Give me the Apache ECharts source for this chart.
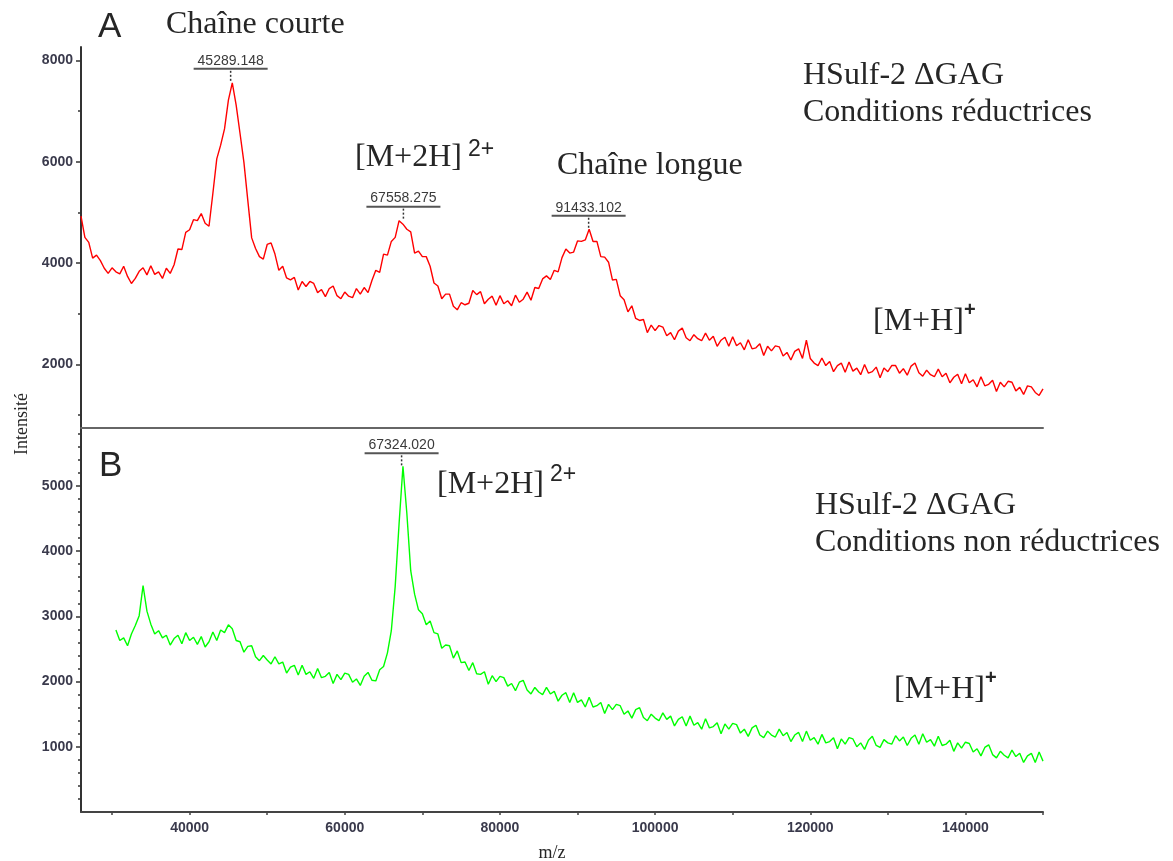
<!DOCTYPE html>
<html>
<head>
<meta charset="utf-8">
<title>HSulf-2 ΔGAG</title>
<script src="https://cdn.jsdelivr.net/npm/echarts@6/dist/echarts.min.js"></script>
<style>
  html, body { margin: 0; background: #fff; }
  #chart { width: 1173px; height: 861px; }
</style>
</head>
<body>
<div id="chart"></div>
<script>
// m/z sampling of the two traces (500 Da steps)
var mzStep = 500;

// A : conditions réductrices, m/z 26000 -> 150000
var redStart = 26000;
var redIntensity = [
  4930, 4510, 4410, 4100, 4160, 4050, 3900, 3800, 3910, 3830,
  3790, 3940, 3740, 3600, 3700, 3840, 3910, 3770, 3950, 3780,
  3830, 3700, 3900, 3800, 3970, 4280, 4270, 4610, 4660, 4860,
  4840, 4980, 4790, 4730, 5380, 6060, 6330, 6650, 7220, 7560,
  7120, 6560, 5990, 5240, 4500, 4290, 4130, 4080, 4370, 4400,
  4180, 3860, 3940, 3710, 3670, 3720, 3470, 3640, 3540, 3640,
  3600, 3420, 3480, 3340, 3500, 3550, 3360, 3300, 3430, 3350,
  3320, 3500, 3390, 3520, 3420, 3660, 3860, 3820, 4180, 4160,
  4430, 4510, 4840, 4770, 4670, 4620, 4200, 4240, 4130, 4130,
  3940, 3610, 3550, 3300, 3390, 3390, 3150, 3080, 3220, 3180,
  3210, 3460, 3380, 3440, 3200, 3290, 3350, 3170, 3360, 3200,
  3260, 3160, 3370, 3230, 3290, 3430, 3270, 3520, 3500, 3690,
  3750, 3680, 3860, 3830, 4110, 4280, 4200, 4220, 4440, 4430,
  4460, 4670, 4430, 4430, 4130, 4120, 4020, 3670, 3680, 3360,
  3280, 3040, 3160, 2910, 2870, 2890, 2630, 2780, 2670, 2770,
  2740, 2570, 2630, 2490, 2660, 2720, 2530, 2470, 2590, 2510,
  2470, 2620, 2480, 2560, 2360, 2480, 2540, 2360, 2550, 2370,
  2430, 2290, 2490, 2310, 2330, 2410, 2180, 2360, 2270, 2370,
  2350, 2170, 2240, 2090, 2260, 2310, 2120, 2480, 2120, 2030,
  1980, 2130, 1980, 2060, 1860, 1980, 2030, 1850, 2050, 1870,
  1930, 1800, 2000, 1830, 1860, 1950, 1740, 1930, 1860, 1980,
  1980, 1830, 1920, 1790, 1970, 2030, 1840, 1770, 1890, 1800,
  1760, 1910, 1760, 1830, 1640, 1750, 1810, 1620, 1820, 1640,
  1700, 1560, 1760, 1580, 1610, 1690, 1470, 1650, 1560, 1670,
  1650, 1480, 1550, 1410, 1580, 1560, 1450, 1390, 1520
];

// B : conditions non réductrices, m/z 30500 -> 150000
var greenStart = 30500;
var greenIntensity = [
  2790, 2630, 2670, 2550, 2730, 2860, 3010, 3470, 3080, 2880,
  2730, 2780, 2670, 2710, 2560, 2660, 2710, 2580, 2750, 2630,
  2680, 2570, 2690, 2530, 2610, 2760, 2630, 2790, 2750, 2870,
  2810, 2630, 2610, 2450, 2540, 2550, 2380, 2320, 2400, 2330,
  2270, 2380, 2270, 2300, 2130, 2220, 2250, 2100, 2250, 2110,
  2150, 2050, 2200, 2060, 2080, 2140, 1970, 2110, 2030, 2130,
  2110, 1990, 2040, 1940, 2080, 2140, 2020, 2010, 2180, 2230,
  2440, 2780, 3460, 4420, 5300, 4580, 3700, 3340, 3100, 3040,
  2870, 2930, 2750, 2730, 2510, 2560, 2550, 2360, 2470, 2290,
  2300, 2170, 2290, 2120, 2110, 2150, 1960, 2090, 2000, 2080,
  2060, 1930, 1970, 1860, 1990, 2020, 1870, 1810, 1910, 1840,
  1800, 1910, 1810, 1850, 1700, 1790, 1830, 1680, 1830, 1680,
  1720, 1610, 1760, 1610, 1630, 1680, 1510, 1650, 1570, 1650,
  1630, 1500, 1550, 1440, 1570, 1600, 1450, 1400, 1500, 1440,
  1400, 1520, 1420, 1470, 1320, 1420, 1460, 1320, 1470, 1330,
  1370, 1270, 1430, 1290, 1310, 1370, 1200, 1350, 1270, 1360,
  1340, 1210, 1270, 1160, 1290, 1330, 1180, 1140, 1240, 1180,
  1150, 1270, 1170, 1220, 1080, 1180, 1220, 1080, 1240, 1100,
  1140, 1040, 1190, 1060, 1080, 1140, 970, 1120, 1040, 1140,
  1120, 1000, 1060, 960, 1100, 1160, 1020, 990, 1110, 1060,
  1040, 1170, 1090, 1150, 1020, 1130, 1180, 1040, 1200, 1070,
  1110, 1010, 1160, 1020, 1040, 1100, 930, 1060, 980, 1070,
  1050, 920, 970, 860, 990, 1030, 880, 830, 930, 870,
  830, 950, 850, 900, 760, 860, 900, 760, 920, 780
];

// tick positions / labels
var xTicks = [30000, 40000, 50000, 60000, 70000, 80000, 90000, 100000, 110000, 120000, 130000, 140000, 150000];
var xLabels = [40000, 60000, 80000, 100000, 120000, 140000];
var yLabelsA = [2000, 4000, 6000, 8000];
var yMinorA = [1000, 3000, 5000, 7000];
var yLabelsB = [1000, 2000, 3000, 4000, 5000];
var yMinorB = [200, 400, 600, 800, 1200, 1400, 1600, 1800, 2200, 2400, 2600, 2800,
               3200, 3400, 3600, 3800, 4200, 4400, 4600, 4800, 5200, 5400, 5600, 5800];

// annotated peaks (m/z, top of the peak)
var peakMzA = [45289.148, 67558.275, 91433.102];
var peakTopA = [7580, 4860, 4680];
var peakMzB = [67324.020];
var peakTopB = [5300];

function toPairs(start, values) {
  var out = [];
  for (var i = 0; i < values.length; i++) out.push([start + i * mzStep, values[i]]);
  return out;
}

var chart = echarts.init(document.getElementById('chart'));

var serif = '"Liberation Serif", "DejaVu Serif", serif';
var sans = '"Liberation Sans", Arial, sans-serif';
var tickFont = {
  fontFamily: 'Liberation Sans', fontSize: 14, fontWeight: 'bold', color: '#3a3a4c',
  formatter: function (v) { return String(v); }
};

function yAxisMain(grid, min, max, labels) {
  return {
    gridIndex: grid, type: 'value', position: 'left', min: min, max: max,
    axisLine: { show: true, lineStyle: { color: '#333', width: 2 } },
    axisTick: { show: true, customValues: labels, length: 5, lineStyle: { color: '#333', width: 1.5 } },
    axisLabel: Object.assign({ customValues: labels, margin: 8 }, tickFont),
    splitLine: { show: false }
  };
}
function yAxisMinor(grid, min, max, ticks) {
  return {
    gridIndex: grid, type: 'value', position: 'left', offset: 0, min: min, max: max,
    axisLine: { show: false },
    axisTick: { show: true, customValues: ticks, length: 3, lineStyle: { color: '#333', width: 1.5 } },
    axisLabel: { show: false },
    splitLine: { show: false }
  };
}

var option = {
  animation: false,
  grid: [
    { left: 81, right: 130, top: 47, height: 381 },
    { left: 81, right: 130, top: 428, height: 384 }
  ],
  xAxis: [
    {
      gridIndex: 0, type: 'value', min: 26000, max: 150000,
      axisLine: { show: true, lineStyle: { color: '#666', width: 2 } },
      axisTick: { show: false }, axisLabel: { show: false }, splitLine: { show: false }
    },
    {
      gridIndex: 1, type: 'value', min: 26000, max: 150000,
      axisLine: { show: true, lineStyle: { color: '#444', width: 2 } },
      axisTick: { show: true, customValues: xTicks, length: 3, lineStyle: { color: '#444', width: 1.5 } },
      axisLabel: Object.assign({ customValues: xLabels, margin: 9 }, tickFont),
      splitLine: { show: false }
    }
  ],
  yAxis: [
    yAxisMain(0, 748, 8267, yLabelsA),
    yAxisMinor(0, 748, 8267, yMinorA),
    yAxisMain(1, 0, 5888, yLabelsB),
    yAxisMinor(1, 0, 5888, yMinorB)
  ],
  series: [
    {
      name: 'A', type: 'line', xAxisIndex: 0, yAxisIndex: 0,
      data: toPairs(redStart, redIntensity),
      showSymbol: false, silent: true,
      lineStyle: { color: '#ff0000', width: 1.4 }
    },
    {
      name: 'B', type: 'line', xAxisIndex: 1, yAxisIndex: 2,
      data: toPairs(greenStart, greenIntensity),
      showSymbol: false, silent: true,
      lineStyle: { color: '#00ff00', width: 1.4 }
    }
  ]
};
chart.setOption(option);

function txt(s, x, y, font, align) {
  return {
    type: 'text', x: x, y: y, silent: true,
    style: { text: s, font: font, fill: '#262626', verticalAlign: 'middle', align: align || 'left' }
  };
}

// labelled peaks: value, underline and dotted tick down to the apex
function peakMarks(seriesIndex, mzs, tops) {
  var els = [];
  mzs.forEach(function (mz, i) {
    var p = chart.convertToPixel({ seriesIndex: seriesIndex }, [mz, tops[i]]);
    var uy = p[1] - 13;
    els.push({
      type: 'text', x: p[0], y: uy - 8, silent: true,
      style: { text: mz.toFixed(3), font: '14px ' + sans, fill: '#3a3a3a', align: 'center', verticalAlign: 'middle' }
    });
    els.push({
      type: 'line', silent: true,
      shape: { x1: p[0] - 37, y1: uy, x2: p[0] + 37, y2: uy },
      style: { stroke: '#555', lineWidth: 2 }
    });
    els.push({
      type: 'line', silent: true,
      shape: { x1: p[0], y1: uy + 2, x2: p[0], y2: p[1] },
      style: { stroke: '#333', lineWidth: 1.5, lineDash: [2, 2] }
    });
  });
  return els;
}

var big = '32px ' + serif;
var yTitle = txt('Intensité', 22, 424, '18px ' + serif, 'center');
yTitle.rotation = Math.PI / 2;

var graphics = [
  txt('A', 98, 27, '35px ' + sans),
  txt('Chaîne courte', 166, 25, big),
  txt('[M+2H]', 355, 158, big),
  txt('2+', 468, 150, '23px ' + sans),
  txt('Chaîne longue', 557, 166, big),
  txt('HSulf-2 \u0394GAG', 803, 76, big),
  txt('Conditions réductrices', 803, 113, big),
  txt('[M+H]', 873, 322, big),
  txt('+', 964, 310, 'bold 20px ' + sans),

  txt('B', 99, 466, '35px ' + sans),
  txt('[M+2H]', 437, 485, big),
  txt('2+', 550, 475, '23px ' + sans),
  txt('HSulf-2 \u0394GAG', 815, 506, big),
  txt('Conditions non réductrices', 815, 543, big),
  txt('[M+H]', 894, 690, big),
  txt('+', 985, 678, 'bold 20px ' + sans),

  yTitle,
  txt('m/z', 552, 853, '18px ' + serif, 'center')
];

graphics = graphics.concat(peakMarks(0, peakMzA, peakTopA), peakMarks(1, peakMzB, peakTopB));
chart.setOption({ graphic: graphics });
</script>
</body>
</html>
